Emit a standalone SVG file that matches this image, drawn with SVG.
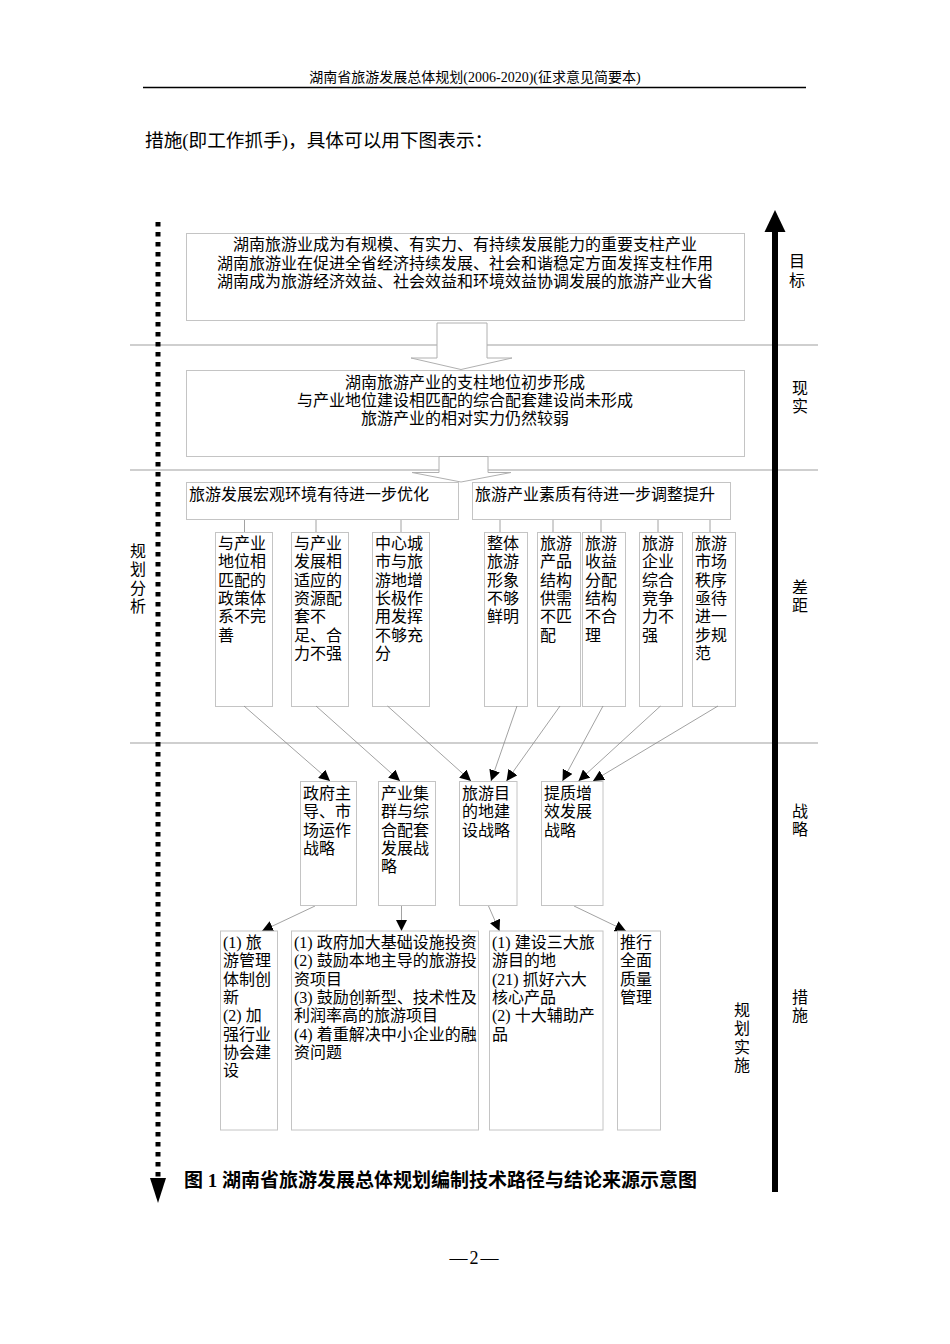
<svg xmlns="http://www.w3.org/2000/svg" width="950" height="1344" viewBox="0 0 950 1344">
<style>
text{font-family:"Liberation Serif","Noto Sans CJK SC",sans-serif;fill:#000;}
.t16{font-size:16px;}
.c{text-anchor:middle;}
.box{fill:#fff;stroke:#c4c4c4;stroke-width:1;}
.sep{stroke:#cfcfcf;stroke-width:2;fill:none;}
.con{stroke:#8a8a8a;stroke-width:0.8;fill:none;}
.hollow{fill:#fff;stroke:#b0b0b0;stroke-width:1;}
</style>
<defs>
<marker id="ah" markerUnits="userSpaceOnUse" markerWidth="11" markerHeight="11" refX="11" refY="5.5" orient="auto">
<path d="M0,0 L11,5.5 L0,11 z" fill="#000"/>
</marker>
</defs>
<rect width="950" height="1344" fill="#fff"/>
<!-- page header -->
<g id="page-header">
<text x="475" y="82" class="c" font-size="14">湖南省旅游发展总体规划(2006-2020)(征求意见简要本)</text>
<line x1="143" y1="87.5" x2="806" y2="87.5" stroke="#000" stroke-width="1.6"/>
<text x="145" y="147" font-size="18.67">措施(即工作抓手)，具体可以用下图表示：</text>
</g>
<!-- separators -->
<g id="separators">
<line class="sep" x1="130" y1="345" x2="818" y2="345"/>
<line class="sep" x1="130" y1="470" x2="818" y2="470"/>
<line class="sep" x1="130" y1="743" x2="818" y2="743"/>
</g>
<!-- side axes -->
<g id="axis-left">
<line x1="158" y1="222" x2="158" y2="1180" stroke="#000" stroke-width="5" stroke-dasharray="4.5 5.5"/>
<path d="M150,1178 L166,1178 L158,1203 z" fill="#000"/>
</g>
<g id="axis-right">
<rect x="772" y="230" width="6" height="962" fill="#000"/>
<path d="M764.5,232 L785.5,232 L775,210 z" fill="#000"/>
</g>
<!-- labels -->
<g id="labels" class="t16">
<text x="797" y="267" class="c">目</text><text x="797" y="286" class="c">标</text>
<text x="800" y="394" class="c">现</text><text x="800" y="412" class="c">实</text>
<text x="800" y="593" class="c">差</text><text x="800" y="611" class="c">距</text>
<text x="800" y="817" class="c">战</text><text x="800" y="835" class="c">略</text>
<text x="800" y="1003" class="c">措</text><text x="800" y="1021" class="c">施</text>
<text x="138" y="557" class="c">规</text><text x="138" y="575" class="c">划</text>
<text x="138" y="594" class="c">分</text><text x="138" y="612" class="c">析</text>
<text x="742" y="1016" class="c">规</text><text x="742" y="1034" class="c">划</text>
<text x="742" y="1053" class="c">实</text><text x="742" y="1071" class="c">施</text>
</g>
<!-- goal -->
<g id="node-goal">
<rect class="box" x="186.5" y="233.5" width="558" height="87"/>
<text class="t16 c" x="465" y="250">湖南旅游业成为有规模、有实力、有持续发展能力的重要支柱产业</text>
<text class="t16 c" x="465" y="268.5">湖南旅游业在促进全省经济持续发展、社会和谐稳定方面发挥支柱作用</text>
<text class="t16 c" x="465" y="287">湖南成为旅游经济效益、社会效益和环境效益协调发展的旅游产业大省</text>
</g>
<g id="arrow-hollow-1">
<path class="hollow" d="M437,323 L487,323 L487,358 L512,358 L461,369.5 L411,358 L437,358 z"/>
</g>
<!-- reality -->
<g id="node-reality">
<rect class="box" x="186.5" y="370.5" width="558" height="86"/>
<text class="t16 c" x="465" y="388">湖南旅游产业的支柱地位初步形成</text>
<text class="t16 c" x="465" y="406">与产业地位建设相匹配的综合配套建设尚未形成</text>
<text class="t16 c" x="465" y="424">旅游产业的相对实力仍然较弱</text>
</g>
<g id="arrow-hollow-2">
<path class="hollow" d="M439,456.5 L488,456.5 L488,472.5 L511,472.5 L461,482 L412,472.5 L439,472.5 z"/>
</g>
<!-- gap groups -->
<g id="node-gap-env">
<rect class="box" x="186.5" y="482.5" width="272" height="37"/>
<text class="t16" x="189" y="500">旅游发展宏观环境有待进一步优化</text>
</g>
<g id="node-gap-industry">
<rect class="box" x="472.5" y="482.5" width="258" height="37"/>
<text class="t16" x="475" y="500">旅游产业素质有待进一步调整提升</text>
</g>
<g id="connectors-tree">
<g class="con" stroke="#aaa">
<line x1="244.5" y1="520" x2="244.5" y2="532"/>
<line x1="316" y1="520" x2="316" y2="532"/>
<line x1="401" y1="520" x2="401" y2="532"/>
<line x1="500" y1="520" x2="500" y2="532"/>
<line x1="553" y1="520" x2="553" y2="532"/>
<line x1="601" y1="520" x2="601" y2="532"/>
<line x1="658" y1="520" x2="658" y2="532"/>
<line x1="710" y1="520" x2="710" y2="532"/>
</g>
</g>
<!-- gap items -->
<g id="node-gap-1">
<rect class="box" x="215.5" y="532.5" width="57" height="174"/>
<text class="t16" x="218"><tspan x="218" y="549">与产业</tspan><tspan x="218" y="567.3">地位相</tspan><tspan x="218" y="585.6">匹配的</tspan><tspan x="218" y="603.9">政策体</tspan><tspan x="218" y="622.2">系不完</tspan><tspan x="218" y="640.5">善</tspan></text>
</g>
<g id="node-gap-2">
<rect class="box" x="291.5" y="532.5" width="57" height="174"/>
<text class="t16"><tspan x="294" y="549">与产业</tspan><tspan x="294" y="567.3">发展相</tspan><tspan x="294" y="585.6">适应的</tspan><tspan x="294" y="603.9">资源配</tspan><tspan x="294" y="622.2">套不</tspan><tspan x="294" y="640.5">足、合</tspan><tspan x="294" y="658.8">力不强</tspan></text>
</g>
<g id="node-gap-3">
<rect class="box" x="372.5" y="532.5" width="57" height="174"/>
<text class="t16"><tspan x="375" y="549">中心城</tspan><tspan x="375" y="567.3">市与旅</tspan><tspan x="375" y="585.6">游地增</tspan><tspan x="375" y="603.9">长极作</tspan><tspan x="375" y="622.2">用发挥</tspan><tspan x="375" y="640.5">不够充</tspan><tspan x="375" y="658.8">分</tspan></text>
</g>
<g id="node-gap-4">
<rect class="box" x="484.5" y="532.5" width="43" height="174"/>
<text class="t16"><tspan x="487" y="549">整体</tspan><tspan x="487" y="567.3">旅游</tspan><tspan x="487" y="585.6">形象</tspan><tspan x="487" y="603.9">不够</tspan><tspan x="487" y="622.2">鲜明</tspan></text>
</g>
<g id="node-gap-5">
<rect class="box" x="537.5" y="532.5" width="43" height="174"/>
<text class="t16"><tspan x="540" y="549">旅游</tspan><tspan x="540" y="567.3">产品</tspan><tspan x="540" y="585.6">结构</tspan><tspan x="540" y="603.9">供需</tspan><tspan x="540" y="622.2">不匹</tspan><tspan x="540" y="640.5">配</tspan></text>
</g>
<g id="node-gap-6">
<rect class="box" x="582.5" y="532.5" width="43" height="174"/>
<text class="t16"><tspan x="585" y="549">旅游</tspan><tspan x="585" y="567.3">收益</tspan><tspan x="585" y="585.6">分配</tspan><tspan x="585" y="603.9">结构</tspan><tspan x="585" y="622.2">不合</tspan><tspan x="585" y="640.5">理</tspan></text>
</g>
<g id="node-gap-7">
<rect class="box" x="639.5" y="532.5" width="43" height="174"/>
<text class="t16"><tspan x="642" y="549">旅游</tspan><tspan x="642" y="567.3">企业</tspan><tspan x="642" y="585.6">综合</tspan><tspan x="642" y="603.9">竞争</tspan><tspan x="642" y="622.2">力不</tspan><tspan x="642" y="640.5">强</tspan></text>
</g>
<g id="node-gap-8">
<rect class="box" x="692.5" y="532.5" width="43" height="174"/>
<text class="t16"><tspan x="695" y="549">旅游</tspan><tspan x="695" y="567.3">市场</tspan><tspan x="695" y="585.6">秩序</tspan><tspan x="695" y="603.9">亟待</tspan><tspan x="695" y="622.2">进一</tspan><tspan x="695" y="640.5">步规</tspan><tspan x="695" y="658.8">范</tspan></text>
</g>
<!-- connectors -->
<g id="connectors" class="con">
<line x1="244" y1="706" x2="330" y2="781" marker-end="url(#ah)"/>
<line x1="316" y1="706" x2="400" y2="781" marker-end="url(#ah)"/>
<line x1="387.5" y1="706" x2="471" y2="781" marker-end="url(#ah)"/>
<line x1="517" y1="706" x2="491" y2="781" marker-end="url(#ah)"/>
<line x1="560" y1="706" x2="506.5" y2="781" marker-end="url(#ah)"/>
<line x1="603" y1="706" x2="562.5" y2="781" marker-end="url(#ah)"/>
<line x1="660.5" y1="706" x2="578.5" y2="781" marker-end="url(#ah)"/>
<line x1="718" y1="706" x2="593" y2="781" marker-end="url(#ah)"/>
<line x1="315" y1="906" x2="262" y2="931" marker-end="url(#ah)"/>
<line x1="401.5" y1="906" x2="401.5" y2="931" marker-end="url(#ah)"/>
<line x1="488.5" y1="906" x2="499.5" y2="931" marker-end="url(#ah)"/>
<line x1="574" y1="906" x2="626" y2="931" marker-end="url(#ah)"/>
</g>
<!-- strategies -->
<g id="node-strategy-1">
<rect class="box" x="300.5" y="781.5" width="56" height="124"/>
<text class="t16"><tspan x="303" y="799">政府主</tspan><tspan x="303" y="817.3">导、市</tspan><tspan x="303" y="835.6">场运作</tspan><tspan x="303" y="853.9">战略</tspan></text>
</g>
<g id="node-strategy-2">
<rect class="box" x="378.5" y="781.5" width="57" height="124"/>
<text class="t16"><tspan x="381" y="799">产业集</tspan><tspan x="381" y="817.3">群与综</tspan><tspan x="381" y="835.6">合配套</tspan><tspan x="381" y="853.9">发展战</tspan><tspan x="381" y="872.2">略</tspan></text>
</g>
<g id="node-strategy-3">
<rect class="box" x="459.5" y="781.5" width="57.5" height="124"/>
<text class="t16"><tspan x="462" y="799">旅游目</tspan><tspan x="462" y="817.3">的地建</tspan><tspan x="462" y="835.6">设战略</tspan></text>
</g>
<g id="node-strategy-4">
<rect class="box" x="541.5" y="781.5" width="61.5" height="124"/>
<text class="t16"><tspan x="544" y="799">提质增</tspan><tspan x="544" y="817.3">效发展</tspan><tspan x="544" y="835.6">战略</tspan></text>
</g>
<!-- measures -->
<g id="node-measure-1">
<rect class="box" x="220.5" y="931" width="57" height="199"/>
<text class="t16"><tspan x="223" y="948">(1) 旅</tspan><tspan x="223" y="966.3">游管理</tspan><tspan x="223" y="984.6">体制创</tspan><tspan x="223" y="1002.9">新</tspan><tspan x="223" y="1021.2">(2) 加</tspan><tspan x="223" y="1039.5">强行业</tspan><tspan x="223" y="1057.8">协会建</tspan><tspan x="223" y="1076.1">设</tspan></text>
</g>
<g id="node-measure-2">
<rect class="box" x="291.5" y="931" width="187" height="199"/>
<text class="t16"><tspan x="294" y="948">(1) 政府加大基础设施投资</tspan><tspan x="294" y="966.3">(2) 鼓励本地主导的旅游投</tspan><tspan x="294" y="984.6">资项目</tspan><tspan x="294" y="1002.9">(3) 鼓励创新型、技术性及</tspan><tspan x="294" y="1021.2">利润率高的旅游项目</tspan><tspan x="294" y="1039.5">(4) 着重解决中小企业的融</tspan><tspan x="294" y="1057.8">资问题</tspan></text>
</g>
<g id="node-measure-3">
<rect class="box" x="489.5" y="931" width="113.5" height="199"/>
<text class="t16"><tspan x="492" y="948">(1) 建设三大旅</tspan><tspan x="492" y="966.3">游目的地</tspan><tspan x="492" y="984.6">(21) 抓好六大</tspan><tspan x="492" y="1002.9">核心产品</tspan><tspan x="492" y="1021.2">(2) 十大辅助产</tspan><tspan x="492" y="1039.5">品</tspan></text>
</g>
<g id="node-measure-4">
<rect class="box" x="617.5" y="931" width="43" height="199"/>
<text class="t16"><tspan x="620" y="948">推行</tspan><tspan x="620" y="966.3">全面</tspan><tspan x="620" y="984.6">质量</tspan><tspan x="620" y="1002.9">管理</tspan></text>
</g>
<!-- caption -->
<g id="caption">
<text x="184" y="1187" font-size="19" font-weight="bold">图 1 湖南省旅游发展总体规划编制技术路径与结论来源示意图</text>
<text x="475" y="1264" class="c" font-size="18" letter-spacing="2">—2—</text>
</g>
</svg>
